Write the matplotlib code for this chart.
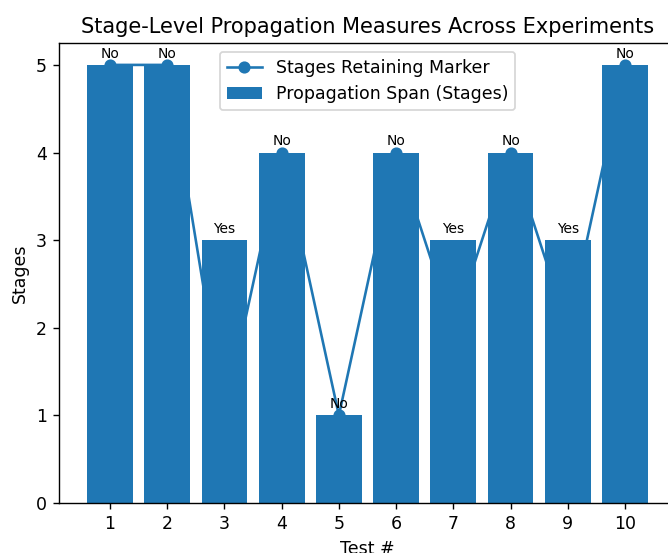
import matplotlib
matplotlib.use("Agg")
import matplotlib.pyplot as plt

tests = [1, 2, 3, 4, 5, 6, 7, 8, 9, 10]
span = [5, 5, 3, 4, 1, 4, 3, 4, 3, 5]
retained = [5, 5, 1, 4, 1, 4, 2, 4, 2, 5]
lost = ["No", "No", "Yes", "No", "No", "No", "Yes", "No", "Yes", "No"]

# reference looks rendered at ~125 dpi
dpi = 125
fig = plt.figure(figsize=(668 / dpi, 553 / dpi), dpi=dpi)
ax = fig.add_axes([59 / 668, 1 - 503 / 553, 617 / 668, 460 / 553])

ax.plot(tests, retained, marker="o", label="Stages Retaining Marker", zorder=0.5)
ax.bar(tests, span, label="Propagation Span (Stages)", zorder=1)

for x, h, s in zip(tests, span, lost):
    ax.text(x, h + 0.05, s, ha="center", va="bottom", fontsize=8)

ax.set_xticks(tests)
ax.set_xlabel("Test #")
ax.set_ylabel("Stages")
ax.set_title("Stage-Level Propagation Measures Across Experiments")
ax.legend(loc="upper center")

fig.savefig("out.png", dpi=dpi)
